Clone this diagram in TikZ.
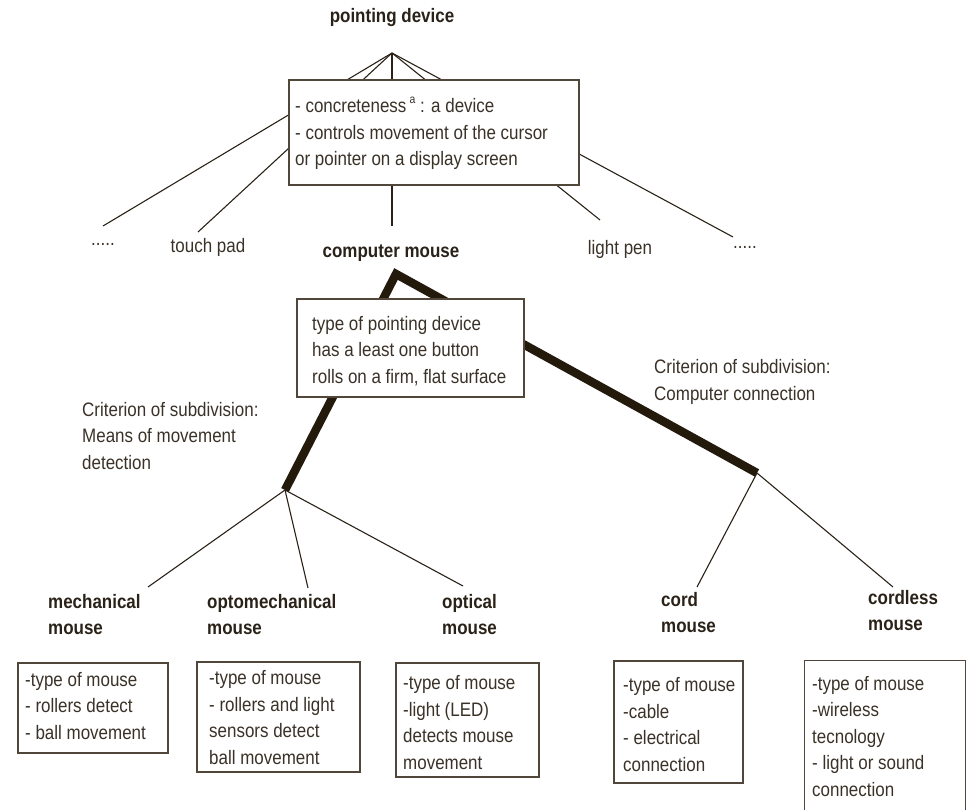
\documentclass[tikz,border=0pt]{standalone}
\usepackage{fontspec}
\setmainfont{Liberation Sans}[FakeStretch=0.87]
\definecolor{ink}{RGB}{42,34,24}
\definecolor{txt}{RGB}{58,50,40}
\definecolor{heavyc}{RGB}{36,26,12}
\definecolor{boxline}{RGB}{80,70,58}
\begin{document}
\begin{tikzpicture}[x=1pt,y=-1pt,
  lbl/.style={inner sep=0pt, text=txt, font=\fontsize{19.5}{26.5}\selectfont, align=left},
  blbl/.style={inner sep=0pt, text=ink, font=\fontsize{19.5}{26}\selectfont\bfseries, align=left},
  boxst/.style={draw=boxline, line width=1.3pt, fill=white, inner sep=0pt},
  thinc/.style={draw=ink, line width=1.1pt},
  heavy/.style={draw=heavyc, line width=8.5pt, line join=miter, line cap=butt}]
\useasboundingbox (0,0) rectangle (966,810);

% ---- top level
\node[blbl, anchor=base] (pd) at (392,23) {pointing device};
\coordinate (pdApex) at (392,53);
\node[lbl, anchor=base] (dotsL) at (103,246) {.....};
\node[lbl, anchor=base] (tp) at (208,253) {touch pad};
\node[blbl, anchor=base] (cm) at (391,258) {computer mouse};
\node[lbl, anchor=base] (lp) at (620,255) {light pen};
\node[lbl, anchor=base] (dotsR) at (745,249) {.....};
\coordinate (eDotsL) at (103,226);
\coordinate (eTp) at (198,232);
\coordinate (eCm) at (392,226);
\coordinate (eLp) at (600,220);
\coordinate (eDotsR) at (733,237);
\draw[thinc] (pdApex) -- (eDotsL);
\draw[thinc] (pdApex) -- (eTp);
\draw[thinc] (pdApex) -- (eCm);
\draw[thinc] (pdApex) -- (eLp);
\draw[thinc] (pdApex) -- (eDotsR);
\node[boxst, minimum width=290pt, minimum height=105pt] (b1) at (434,132.5) {};
\node[lbl, anchor=base west] (t1) at (295,166) {- concreteness\,\raisebox{0.5em}{\fontsize{12}{12}\selectfont a} : a device\\- controls movement of the cursor\\or pointer on a display screen};

% ---- computer mouse subdivision
\coordinate (cmApex) at (396,274);
\coordinate (cmL) at (285,490);
\coordinate (cmR) at (757,473);
\draw[heavy] (cmL) -- (cmApex) -- (cmR);
\node[boxst, minimum width=227pt, minimum height=98pt] (b2) at (410.5,348) {};
\node[lbl, anchor=base west] (t2) at (312,383) {type of pointing device\\has a least one button\\rolls on a firm, flat surface};

\node[lbl, anchor=base west] (critL) at (82,469) {Criterion of subdivision:\\Means of movement\\detection};
\node[lbl, anchor=base west] (critR) at (654,400) {Criterion of subdivision:\\Computer connection};

% ---- leaves
\node[blbl, anchor=base west] (mech) at (48,634) {mechanical\\mouse};
\node[blbl, anchor=base west] (opto) at (207,634) {optomechanical\\mouse};
\node[blbl, anchor=base west] (opt) at (442,634) {optical\\mouse};
\node[blbl, anchor=base west] (cord) at (661,632) {cord\\mouse};
\node[blbl, anchor=base west] (cordless) at (868,630) {cordless\\mouse};
\coordinate (eMech) at (148,587);
\coordinate (eOpto) at (308,588);
\coordinate (eOpt) at (463,586);
\coordinate (eCord) at (697,587);
\coordinate (eCordless) at (893,587);
\draw[thinc] (cmL) -- (eMech);
\draw[thinc] (cmL) -- (eOpto);
\draw[thinc] (cmL) -- (eOpt);
\draw[thinc] (cmR) -- (eCord);
\draw[thinc] (cmR) -- (eCordless);

% ---- leaf boxes
\node[boxst, minimum width=150pt, minimum height=90pt] (bMech) at (93,708) {};
\node[lbl, anchor=base west] (tMech) at (25,739) {-type of mouse\\- rollers detect\\- ball movement};
\node[boxst, minimum width=163pt, minimum height=110pt] (bOpto) at (278.5,717) {};
\node[lbl, anchor=base west] (tOpto) at (209,764) {-type of mouse\\- rollers and light\\sensors detect\\ball movement};
\node[boxst, minimum width=143pt, minimum height=114pt] (bOpt) at (467.5,720) {};
\node[lbl, anchor=base west] (tOpt) at (403,769) {-type of mouse\\-light (LED)\\detects mouse\\movement};
\node[boxst, minimum width=129pt, minimum height=122pt] (bCord) at (678.5,722) {};
\node[lbl, anchor=base west] (tCord) at (623,771) {-type of mouse\\-cable\\- electrical\\connection};
\node[inner sep=0pt, minimum width=160pt, minimum height=151pt] (bCordless) at (885,736.5) {};
\draw[draw=boxline, line width=1.3pt] (bCordless.south west) -- (bCordless.north west) -- (bCordless.north east) -- (bCordless.south east);
\node[lbl, anchor=base west] (tCordless) at (812,796) {-type of mouse\\-wireless\\tecnology\\- light or sound\\connection};
\end{tikzpicture}
\end{document}
